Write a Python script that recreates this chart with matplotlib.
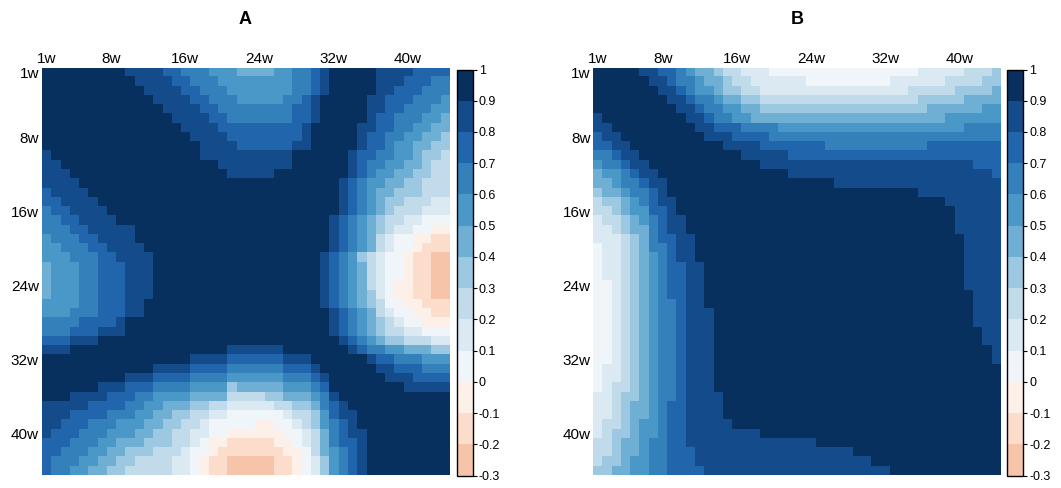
import numpy as np
import matplotlib.pyplot as plt
from matplotlib.colors import ListedColormap, BoundaryNorm
from matplotlib.cm import ScalarMappable

plt.rcParams['font.family'] = ['Liberation Sans', 'DejaVu Sans']

n_weeks = 44
tick_weeks = [1, 8, 16, 24, 32, 40]
tick_labels = ['1w', '8w', '16w', '24w', '32w', '40w']
bounds = np.round(np.arange(-0.3, 1.0001, 0.1), 1)
bin_colors = ['#F6C4A9', '#FCDCCB', '#FDF0E8', '#F0F5FA', '#DAE9F2', '#C1DBEB',
              '#9CC9E1', '#6FAFD4', '#4A98C7', '#3380BA', '#2166AC', '#144B8B', '#07305F']

# correlation read off the picture as colour-bin runs "bin:count" per row
# (bin 0 = -0.3..-0.2, bin 12 = 0.9..1.0); only the upper triangle is used
A_rows = [
    "12:9 11:4 10:2 9:3 8:3 7:4 8:2 9:2 10:1 11:1 12:5 11:4 10:4",
    "12:10 11:4 10:2 9:3 8:8 9:2 10:1 11:1 12:5 11:3 10:3 9:2",
    "12:11 11:4 10:2 9:3 8:7 9:2 10:1 11:1 12:5 11:2 10:3 9:3",
    "12:12 11:4 10:2 9:3 8:5 9:2 10:1 11:1 12:5 11:2 10:3 9:3 8:1",
    "12:13 11:4 10:2 9:8 10:2 11:1 12:5 11:2 10:2 9:3 8:2",
    "12:14 11:4 10:2 9:7 10:2 11:1 12:5 11:1 10:2 9:3 8:2 7:1",
    "12:15 11:4 10:9 11:1 12:5 11:2 10:2 9:2 8:2 7:2",
    "12:16 11:4 10:8 11:1 12:5 11:1 10:2 9:2 8:2 7:2 6:1",
    "12:17 11:4 10:6 11:2 12:5 11:1 10:2 9:1 8:2 7:2 6:2",
    "12:17 11:10 12:6 11:1 10:2 9:2 8:2 7:1 6:2 5:1",
    "12:19 11:8 12:6 11:1 10:1 9:2 8:2 7:2 6:1 5:2",
    "12:20 11:5 12:8 11:1 10:1 9:1 8:2 7:2 6:2 5:2",
    "12:32 11:1 10:1 9:1 8:2 7:2 6:2 5:3",
    "12:32 11:1 10:1 9:1 8:1 7:2 6:3 5:3",
    "12:32 11:1 10:1 9:1 8:1 7:1 6:2 5:3 4:2",
    "12:32 11:1 10:1 9:1 8:1 7:1 6:1 5:3 4:3",
    "12:31 11:1 10:1 9:1 8:1 7:1 6:1 5:2 4:2 3:3",
    "12:31 11:1 10:1 9:1 8:1 7:1 6:1 5:1 4:2 3:2 2:2",
    "12:31 11:1 10:1 9:1 8:1 7:1 5:1 4:1 3:2 2:2 1:2",
    "12:31 11:1 10:1 9:1 8:1 7:1 5:1 4:1 3:2 2:1 1:3",
    "12:30 11:1 10:1 9:1 8:1 6:1 5:1 4:1 3:2 2:1 1:2 0:2",
    "12:30 11:1 10:1 9:1 8:1 7:1 5:1 4:1 3:2 2:1 1:2 0:2",
    "12:30 11:1 10:1 9:1 8:1 7:1 5:1 4:1 3:2 2:1 1:2 0:2",
    "12:30 11:1 10:1 9:1 8:1 7:1 5:1 4:1 3:1 2:2 1:2 0:2",
    "12:30 11:1 10:1 9:1 8:1 7:1 6:1 4:1 3:1 2:2 1:2 0:2",
    "12:30 11:1 10:1 9:1 8:1 7:1 6:1 5:1 3:2 2:2 1:3",
    "12:31 11:1 10:1 9:1 8:1 7:1 5:1 4:1 3:2 2:2 1:2",
    "12:31 11:1 10:1 9:1 8:1 7:1 6:1 5:1 4:1 3:2 2:3",
    "12:31 11:1 10:1 9:1 8:1 7:1 6:1 5:2 4:2 3:3",
    "12:32 11:1 10:1 9:1 8:1 7:1 6:2 5:3 4:2",
    "12:33 11:1 10:1 9:2 8:2 7:3 6:2",
    "12:35 11:1 10:2 9:3 8:3",
    "12:36 11:2 10:3 9:3",
    "12:37 11:3 10:4",
    "12:39 11:5",
    "12:44", "12:44", "12:44", "12:44", "12:44",
    "12:44", "12:44", "12:44", "12:44",
]

B_rows = [
    "12:5 11:2 10:2 9:1 8:1 7:2 6:1 5:2 4:3 3:16 4:5 5:3 6:1",
    "12:6 11:2 10:1 9:2 8:1 7:2 6:1 5:2 4:6 3:9 4:6 5:4 6:2",
    "12:7 11:2 10:1 9:1 8:2 7:1 6:2 5:2 4:16 5:5 6:4 7:1",
    "12:8 11:2 10:1 9:2 8:1 7:2 6:2 5:17 6:5 7:4",
    "12:9 11:2 10:1 9:2 8:2 7:2 6:18 7:6 8:2",
    "12:10 11:2 10:1 9:2 8:2 7:21 8:6",
    "12:11 11:2 10:3 9:4 8:20 9:4",
    "12:12 11:3 10:4 9:25",
    "12:14 11:4 10:7 9:11 10:8",
    "12:16 11:5 10:23",
    "12:18 11:23 10:3",
    "12:21 11:22 10:1",
    "12:26 11:18",
    "12:35 11:9",
    "12:38 11:6",
    "12:39 11:5", "12:39 11:5", "12:39 11:5",
    "12:40 11:4", "12:40 11:4", "12:40 11:4", "12:40 11:4", "12:40 11:4", "12:40 11:4",
    "12:41 11:3", "12:41 11:3", "12:41 11:3", "12:41 11:3",
    "12:42 11:2", "12:42 11:2",
    "12:43 11:1", "12:43 11:1",
    "12:44", "12:44", "12:44", "12:44", "12:44", "12:44",
    "12:44", "12:44", "12:44", "12:44", "12:44", "12:44",
]


def decode(rows):
    lv = np.zeros((n_weeks, n_weeks))
    for i, row in enumerate(rows):
        cells = []
        for run in row.split():
            b, n = run.split(':')
            cells += [int(b)] * int(n)
        lv[i] = cells
    # symmetric correlation matrix from the upper triangle
    lv = np.triu(lv) + np.triu(lv, 1).T
    return bounds[0] + 0.05 + 0.1 * lv


cmap = ListedColormap(bin_colors)
norm = BoundaryNorm(bounds, cmap.N)

W, H = 1061, 488
fig = plt.figure(figsize=(W / 100, H / 100), dpi=100)


def px_axes(x0, y0, x1, y1):
    return fig.add_axes([x0 / W, 1 - y1 / H, (x1 - x0) / W, (y1 - y0) / H])


def heat_panel(rows, box, cbox, title, tx):
    ax = px_axes(*box)
    ax.imshow(decode(rows), cmap=cmap, norm=norm, interpolation='nearest',
              aspect='auto', extent=(0.5, n_weeks + 0.5, n_weeks + 0.5, 0.5))
    ax.set_xticks(tick_weeks)
    ax.set_xticklabels(tick_labels)
    ax.set_yticks(tick_weeks)
    ax.set_yticklabels(tick_labels)
    ax.xaxis.tick_top()
    ax.tick_params(length=0, labelsize=11, pad=2)
    for s in ax.spines.values():
        s.set_visible(False)

    cax = px_axes(*cbox)
    cb = fig.colorbar(ScalarMappable(norm=norm, cmap=cmap), cax=cax, ticks=bounds)
    cb.ax.set_yticklabels([f'{b:g}' for b in bounds])
    cb.ax.tick_params(labelsize=9, length=3, width=0.8, pad=1.5)
    cb.outline.set_linewidth(1.0)
    cb.outline.set_edgecolor('black')

    fig.text(tx / W, 1 - 20 / H, title, fontsize=13, fontweight='bold',
             ha='center', va='center')


heat_panel(A_rows, (41.7, 68.3, 449.3, 475.5), (456.7, 69.5, 472.5, 475.5), 'A', 245)
heat_panel(B_rows, (593.3, 68.3, 1000.9, 475.5), (1007.0, 69.5, 1023.0, 475.5), 'B', 797)

fig.savefig('out.png', dpi=100)
